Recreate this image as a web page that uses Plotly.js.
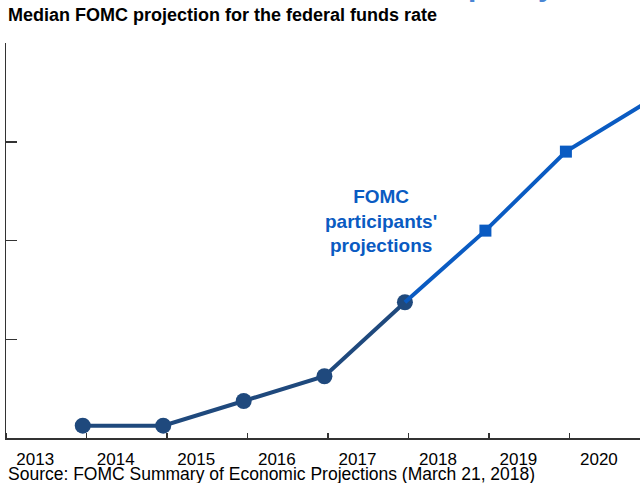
<!DOCTYPE html>
<html>
<head>
<meta charset="utf-8">
<script src="https://cdn.plot.ly/plotly-3.0.1.min.js"></script>
<style>html,body{margin:0;padding:0;background:#fff;}#chart{width:640px;height:483px;}</style>
</head>
<body>
<div id="chart"></div>
<script>
// Data (year-end values, percent)
const histYears = [2013, 2014, 2015, 2016, 2017];
const histRate = [0.125, 0.125, 0.375, 0.625, 1.375];
const projYears = [2017, 2018, 2019, 2020];
const projRate = [1.375, 2.1, 2.9, 3.4];
const projMarkerOpacity = [0, 1, 1, 1];
const titleText = "Median FOMC projection for the federal funds rate";
const sourceText = "Source: FOMC Summary of Economic Projections (March 21, 2018)";
const annoText = "FOMC<br>participants'<br>projections";

const NAVY = "#1F497D";
const BLUE = "#0A5BC2";
const FONT = "Liberation Sans, Arial, sans-serif";
const yearEnd = y => y + "-12-15";

const traces = [
  {
    x: histYears.map(yearEnd), y: histRate,
    mode: "lines+markers", type: "scatter",
    line: {color: NAVY, width: 4},
    marker: {color: NAVY, size: 16, symbol: "circle"},
    cliponaxis: false, hoverinfo: "skip"
  },
  {
    x: projYears.map(yearEnd), y: projRate,
    mode: "lines+markers", type: "scatter",
    line: {color: BLUE, width: 4},
    marker: {color: BLUE, size: 12, symbol: "square", opacity: projMarkerOpacity},
    hoverinfo: "skip"
  }
];

const layout = {
  width: 640, height: 483,
  margin: {l: 6, r: 0, t: 43, b: 45, pad: 0},
  paper_bgcolor: "#fff", plot_bgcolor: "#fff",
  showlegend: false,
  font: {family: FONT, color: "#000"},
  title: {
    text: titleText,
    font: {family: FONT, size: 18, weight: "bold", color: "#000"},
    xref: "container", yref: "container",
    x: 8/640, xanchor: "left", y: 1 - 15/483, yanchor: "middle"
  },
  xaxis: {
    type: "date",
    range: ["2013-01-01", "2020-11-15"],
    tick0: "2013-01-01", dtick: "M12",
    tickformat: "%Y", ticklabelmode: "period",
    ticklabelshift: -11, ticklabelstandoff: 5,
    ticks: "inside", ticklen: 5, tickwidth: 1.5, tickcolor: "#333",
    showline: true, linecolor: "#333", linewidth: 1.5,
    showgrid: false, zeroline: false,
    tickfont: {family: FONT, size: 17, color: "#000"},
    fixedrange: true
  },
  yaxis: {
    range: [0, 4], dtick: 1,
    ticks: "inside", ticklen: 11, tickwidth: 1.5, tickcolor: "#333",
    showline: true, linecolor: "#333", linewidth: 1.5,
    showgrid: false, zeroline: false,
    showticklabels: false,
    fixedrange: true
  },
  annotations: [
    {
      text: annoText, xref: "x", yref: "y",
      x: "2017-08-28", y: 2.2,
      showarrow: false, align: "center",
      font: {family: FONT, size: 19, weight: "bold", color: BLUE}
    },
    {
      text: sourceText, xref: "paper", yref: "paper",
      x: 0, y: -36/395, xanchor: "left", yanchor: "middle",
      showarrow: false,
      font: {family: FONT, size: 17.5, color: "#000"}
    },
    {
      text: "policy", xref: "paper", yref: "paper",
      x: 460/634, y: 1.099, xanchor: "left", yanchor: "bottom",
      showarrow: false,
      font: {family: FONT, size: 30, weight: "bold", color: "#4A86D4"}
    }
  ]
};

Plotly.newPlot("chart", traces, layout, {displayModeBar: false, staticPlot: true});
</script>
</body>
</html>
